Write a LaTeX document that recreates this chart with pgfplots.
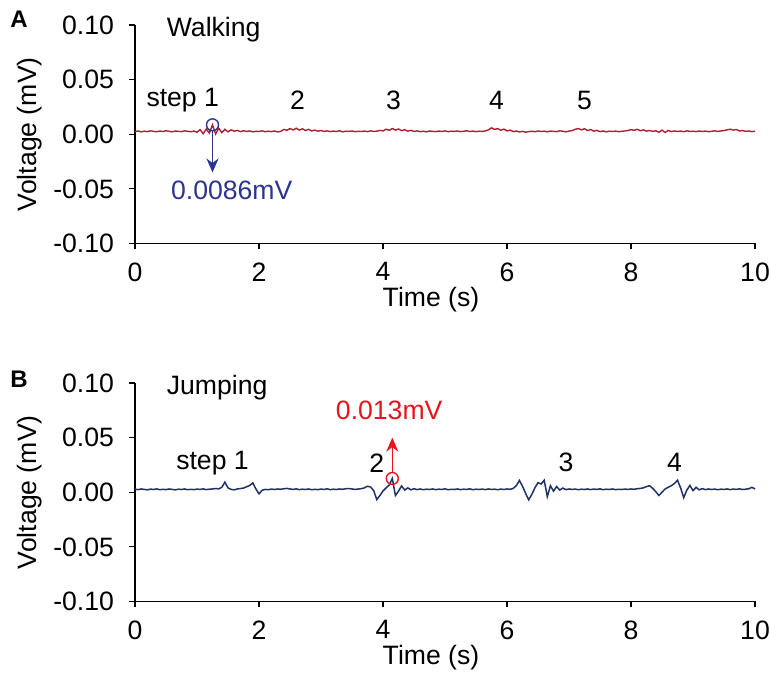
\documentclass[border=0pt]{standalone}
\usepackage{fontspec}
\setmainfont{Liberation Sans}
\usepackage{pgfplots}
\pgfplotsset{compat=1.18}
\usetikzlibrary{arrows.meta}
\definecolor{wred}{HTML}{B01E2E}
\definecolor{jnavy}{HTML}{1F3263}
\definecolor{ablue}{HTML}{2B3590}
\definecolor{ared}{HTML}{E8141B}
\newcommand{\pf}{\fontsize{13.3}{15}\selectfont}
\pgfplotsset{
  panel/.style={
    scale only axis, width=310pt, height=109.25pt,
    xmin=0, xmax=10, ymin=-0.1, ymax=0.1,
    axis x line*=bottom, axis y line*=left,
    tick align=outside, major tick length=3pt,
    xtick={0,2,4,6,8,10}, ytick={-0.1,-0.05,0,0.05,0.1},
    minor tick num=0,
    /pgf/number format/assume math mode=true,
    yticklabel style={xshift=-4pt, /pgf/number format/.cd, fixed, fixed zerofill, precision=2},
    xticklabel style={yshift=-3pt},
    font=\pf,
    tick label style={font=\pf},
    label style={font=\pf},
    xlabel={Time (s)}, ylabel={Voltage (mV)},
    xlabel style={xshift=-7pt, yshift=4pt},
    ylabel style={yshift=-1pt},
    axis line style={line width=0.6pt}, tick style={line width=0.6pt, black},
    clip=false,
  }
}
\begin{document}
\begin{tikzpicture}
\path[use as bounding box] (0,0) rectangle (385pt,341.5pt);
\node[font=\fontsize{12}{14}\selectfont\bfseries] at (9.5pt,332pt) {A};
\node[font=\fontsize{12}{14}\selectfont\bfseries] at (9.5pt,152pt) {B};
\begin{axis}[panel, at={(67.5pt,219.75pt)}, anchor=south west]
\addplot[wred, line width=0.7pt] coordinates {
(0.00,0.0025) (0.05,0.0030) (0.10,0.0022) (0.15,0.0028) (0.20,0.0024) (0.25,0.0031) (0.30,0.0026) (0.35,0.0023) (0.40,0.0029) (0.45,0.0025)
(0.50,0.0032) (0.55,0.0027) (0.60,0.0022) (0.65,0.0030) (0.70,0.0026) (0.75,0.0024) (0.80,0.0031) (0.85,0.0027) (0.90,0.0023) (0.95,0.0029)
(1.00,0.0018) (1.05,0.0042) (1.10,0.0005) (1.15,0.0048) (1.20,0.0010) (1.25,0.0086) (1.30,0.0002) (1.35,0.0055) (1.40,0.0015) (1.45,0.0045)
(1.50,0.0022) (1.55,0.0040) (1.60,0.0028) (1.65,0.0035) (1.70,0.0024) (1.75,0.0032) (1.80,0.0026) (1.85,0.0030) (1.90,0.0022) (1.95,0.0027)
(2.00,0.0025) (2.05,0.0031) (2.10,0.0023) (2.15,0.0028) (2.20,0.0024) (2.25,0.0030) (2.30,0.0021) (2.35,0.0026) (2.40,0.0044) (2.45,0.0036)
(2.50,0.0052) (2.55,0.0039) (2.60,0.0055) (2.65,0.0038) (2.70,0.0050) (2.75,0.0034) (2.80,0.0045) (2.85,0.0030) (2.90,0.0038) (2.95,0.0028)
(3.00,0.0034) (3.05,0.0026) (3.10,0.0031) (3.15,0.0024) (3.20,0.0029) (3.25,0.0025) (3.30,0.0032) (3.35,0.0022) (3.40,0.0028) (3.45,0.0026)
(3.50,0.0030) (3.55,0.0023) (3.60,0.0027) (3.65,0.0025) (3.70,0.0029) (3.75,0.0024) (3.80,0.0031) (3.85,0.0026) (3.90,0.0028) (3.95,0.0035)
(4.00,0.0030) (4.05,0.0046) (4.10,0.0036) (4.15,0.0052) (4.20,0.0038) (4.25,0.0048) (4.30,0.0033) (4.35,0.0042) (4.40,0.0028) (4.45,0.0036)
(4.50,0.0025) (4.55,0.0031) (4.60,0.0023) (4.65,0.0028) (4.70,0.0022) (4.75,0.0030) (4.80,0.0026) (4.85,0.0024) (4.90,0.0029) (4.95,0.0025)
(5.00,0.0031) (5.05,0.0023) (5.10,0.0028) (5.15,0.0026) (5.20,0.0030) (5.25,0.0024) (5.30,0.0027) (5.35,0.0032) (5.40,0.0025) (5.45,0.0029)
(5.50,0.0023) (5.55,0.0028) (5.60,0.0026) (5.65,0.0030) (5.70,0.0040) (5.75,0.0058) (5.80,0.0044) (5.85,0.0052) (5.90,0.0036) (5.95,0.0047)
(6.00,0.0030) (6.05,0.0038) (6.10,0.0024) (6.15,0.0030) (6.20,0.0021) (6.25,0.0026) (6.30,0.0019) (6.35,0.0024) (6.40,0.0027) (6.45,0.0023)
(6.50,0.0030) (6.55,0.0025) (6.60,0.0028) (6.65,0.0022) (6.70,0.0029) (6.75,0.0026) (6.80,0.0024) (6.85,0.0031) (6.90,0.0027) (6.95,0.0022)
(7.00,0.0029) (7.05,0.0033) (7.10,0.0045) (7.15,0.0052) (7.20,0.0040) (7.25,0.0050) (7.30,0.0034) (7.35,0.0043) (7.40,0.0028) (7.45,0.0035)
(7.50,0.0024) (7.55,0.0030) (7.60,0.0022) (7.65,0.0028) (7.70,0.0025) (7.75,0.0029) (7.80,0.0023) (7.85,0.0027) (7.90,0.0030) (7.95,0.0034)
(8.00,0.0042) (8.05,0.0036) (8.10,0.0045) (8.15,0.0032) (8.20,0.0040) (8.25,0.0028) (8.30,0.0034) (8.35,0.0026) (8.40,0.0032) (8.45,0.0018)
(8.50,0.0038) (8.55,0.0016) (8.60,0.0035) (8.65,0.0024) (8.70,0.0030) (8.75,0.0025) (8.80,0.0029) (8.85,0.0023) (8.90,0.0031) (8.95,0.0026)
(9.00,0.0028) (9.05,0.0024) (9.10,0.0030) (9.15,0.0025) (9.20,0.0029) (9.25,0.0023) (9.30,0.0027) (9.35,0.0031) (9.40,0.0026) (9.45,0.0030)
(9.50,0.0034) (9.55,0.0040) (9.60,0.0046) (9.65,0.0038) (9.70,0.0043) (9.75,0.0030) (9.80,0.0034) (9.85,0.0026) (9.90,0.0030) (9.95,0.0024)
(10.00,0.0028)
};
\addplot[ablue, only marks, mark=o, mark size=3pt, mark options={line width=0.7pt}] coordinates {(1.25,0.0086)};
\addplot[ablue, line width=0.8pt, -{Stealth[length=7pt,width=6pt]}] coordinates {(1.25,0.003) (1.25,-0.035)};
\node[ablue] at (axis cs:1.56,-0.051) {0.0086mV};
\node[anchor=west] at (axis cs:0.4,0.096) {Walking};
\node at (axis cs:0.77,0.031) {step 1};
\node at (axis cs:2.62,0.031) {2};
\node at (axis cs:4.17,0.031) {3};
\node at (axis cs:5.83,0.031) {4};
\node at (axis cs:7.25,0.031) {5};
\end{axis}
\begin{axis}[panel, at={(67.5pt,40.75pt)}, anchor=south west]
\addplot[jnavy, line width=0.75pt] coordinates {
(0.00,0.0028) (0.05,0.0024) (0.10,0.0030) (0.15,0.0026) (0.20,0.0022) (0.25,0.0029) (0.30,0.0025) (0.35,0.0031) (0.40,0.0023) (0.45,0.0027)
(0.50,0.0024) (0.55,0.0030) (0.60,0.0026) (0.65,0.0022) (0.70,0.0028) (0.75,0.0025) (0.80,0.0030) (0.85,0.0023) (0.90,0.0027) (0.95,0.0024)
(1.00,0.0029) (1.05,0.0026) (1.10,0.0031) (1.15,0.0024) (1.20,0.0028) (1.25,0.0030) (1.30,0.0034) (1.35,0.0031) (1.40,0.0045) (1.45,0.0092)
(1.50,0.0040) (1.55,0.0026) (1.60,0.0022) (1.65,0.0030) (1.70,0.0034) (1.75,0.0038) (1.80,0.0050) (1.85,0.0062) (1.90,0.0085) (1.95,0.0030)
(2.00,-0.0015) (2.05,0.0018) (2.10,0.0026) (2.15,0.0023) (2.20,0.0029) (2.25,0.0025) (2.30,0.0030) (2.35,0.0027) (2.40,0.0032) (2.45,0.0035)
(2.50,0.0030) (2.55,0.0026) (2.60,0.0031) (2.65,0.0024) (2.70,0.0028) (2.75,0.0025) (2.80,0.0030) (2.85,0.0023) (2.90,0.0027) (2.95,0.0024)
(3.00,0.0029) (3.05,0.0026) (3.10,0.0031) (3.15,0.0024) (3.20,0.0028) (3.25,0.0025) (3.30,0.0030) (3.35,0.0027) (3.40,0.0032) (3.45,0.0034)
(3.50,0.0030) (3.55,0.0026) (3.60,0.0029) (3.65,0.0033) (3.70,0.0040) (3.75,0.0055) (3.80,0.0048) (3.85,0.0015) (3.90,-0.0068) (3.95,-0.0030)
(4.00,0.0012) (4.05,0.0040) (4.10,0.0065) (4.15,0.0126) (4.20,-0.0030) (4.25,0.0010) (4.30,0.0058) (4.35,0.0020) (4.40,0.0040) (4.45,0.0022)
(4.50,0.0032) (4.55,0.0024) (4.60,0.0030) (4.65,0.0023) (4.70,0.0028) (4.75,0.0025) (4.80,0.0030) (4.85,0.0024) (4.90,0.0028) (4.95,0.0026)
(5.00,0.0031) (5.05,0.0023) (5.10,0.0027) (5.15,0.0025) (5.20,0.0030) (5.25,0.0024) (5.30,0.0028) (5.35,0.0026) (5.40,0.0031) (5.45,0.0023)
(5.50,0.0028) (5.55,0.0025) (5.60,0.0029) (5.65,0.0024) (5.70,0.0030) (5.75,0.0026) (5.80,0.0028) (5.85,0.0023) (5.90,0.0029) (5.95,0.0025)
(6.00,0.0030) (6.05,0.0027) (6.10,0.0035) (6.15,0.0060) (6.20,0.0108) (6.25,0.0055) (6.30,-0.0010) (6.35,-0.0070) (6.40,-0.0020) (6.45,0.0040)
(6.50,0.0088) (6.55,0.0075) (6.60,0.0110) (6.65,-0.0040) (6.70,0.0060) (6.75,0.0010) (6.80,0.0052) (6.85,0.0020) (6.90,0.0038) (6.95,0.0024)
(7.00,0.0030) (7.05,0.0026) (7.10,0.0029) (7.15,0.0023) (7.20,0.0028) (7.25,0.0025) (7.30,0.0030) (7.35,0.0024) (7.40,0.0029) (7.45,0.0026)
(7.50,0.0031) (7.55,0.0023) (7.60,0.0028) (7.65,0.0025) (7.70,0.0030) (7.75,0.0024) (7.80,0.0027) (7.85,0.0025) (7.90,0.0029) (7.95,0.0026)
(8.00,0.0030) (8.05,0.0027) (8.10,0.0032) (8.15,0.0035) (8.20,0.0040) (8.25,0.0052) (8.30,0.0060) (8.35,0.0035) (8.40,0.0005) (8.45,-0.0030)
(8.50,0.0000) (8.55,0.0030) (8.60,0.0045) (8.65,0.0060) (8.70,0.0080) (8.75,0.0110) (8.80,0.0040) (8.85,-0.0050) (8.90,0.0020) (8.95,0.0062)
(9.00,0.0015) (9.05,0.0045) (9.10,0.0022) (9.15,0.0033) (9.20,0.0024) (9.25,0.0030) (9.30,0.0025) (9.35,0.0029) (9.40,0.0023) (9.45,0.0028)
(9.50,0.0026) (9.55,0.0030) (9.60,0.0024) (9.65,0.0029) (9.70,0.0026) (9.75,0.0031) (9.80,0.0025) (9.85,0.0028) (9.90,0.0032) (9.95,0.0045)
(10.00,0.0030)
};
\addplot[ared, only marks, mark=o, mark size=3pt, mark options={line width=0.7pt}] coordinates {(4.15,0.0126)};
\addplot[ared, line width=0.8pt, -{Stealth[length=7pt,width=6pt]}] coordinates {(4.15,0.018) (4.15,0.050)};
\node[ared] at (axis cs:4.1,0.075) {0.013mV};
\node[anchor=west] at (axis cs:0.4,0.096) {Jumping};
\node at (axis cs:1.25,0.027) {step 1};
\node at (axis cs:3.9,0.027) {2};
\node at (axis cs:6.95,0.027) {3};
\node at (axis cs:8.7,0.027) {4};
\end{axis}
\end{tikzpicture}
\end{document}
